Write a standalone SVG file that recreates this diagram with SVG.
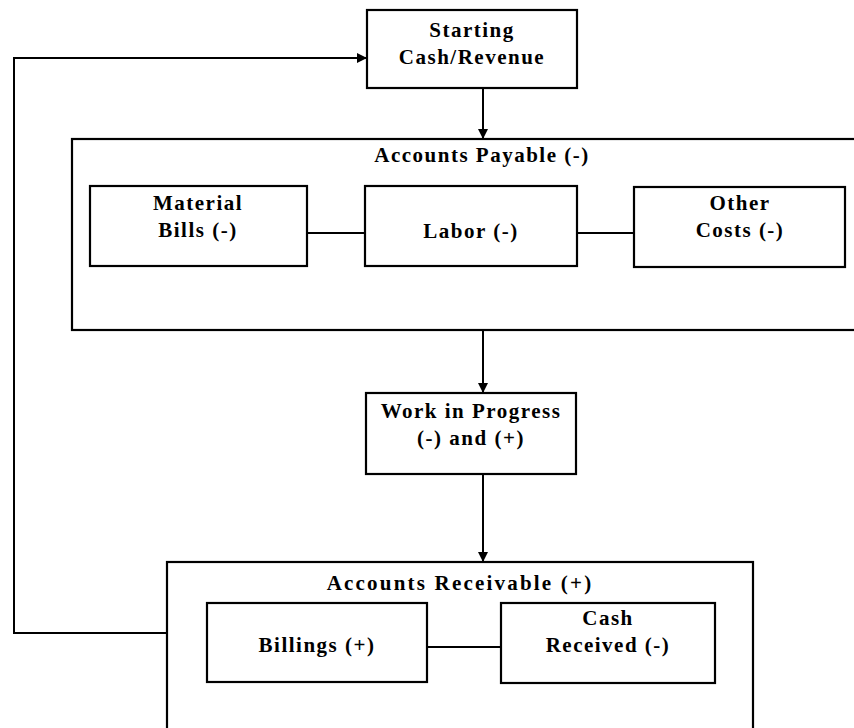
<svg xmlns="http://www.w3.org/2000/svg" width="854" height="728" viewBox="0 0 854 728">
  <defs>
    <marker id="arrow" viewBox="0 0 10 10" refX="10" refY="5" markerWidth="5" markerHeight="5" orient="auto" markerUnits="strokeWidth">
      <path d="M0,0 L10,5 L0,10 z" fill="#000"/>
    </marker>
  </defs>
  <style>
    rect { fill: #fff; stroke: #000; stroke-width: 2.2; }
    .wire { fill: none; stroke: #000; stroke-width: 2; }
    text { font-family: "Liberation Serif", "Times New Roman", serif; font-weight: bold; font-size: 21px; fill: #000; text-anchor: middle; letter-spacing: 1.5px; }
    .wide { letter-spacing: 2.2px; }
  </style>
  <rect x="0" y="0" width="854" height="728" style="stroke:none"/>

  <!-- outer containers -->
  <g id="accounts-payable">
    <rect x="72" y="139" width="800" height="191"/>
    <text x="482" y="162">Accounts Payable (-)</text>
  </g>
  <g id="accounts-receivable">
    <rect x="167" y="562" width="586" height="190"/>
    <text class="wide" x="460" y="590">Accounts Receivable (+)</text>
  </g>

  <!-- connectors -->
  <g id="connectors">
    <path class="wire" d="M483,88 V139" marker-end="url(#arrow)"/>
    <path class="wire" d="M483,330 V393" marker-end="url(#arrow)"/>
    <path class="wire" d="M483,474 V562" marker-end="url(#arrow)"/>
    <path class="wire" d="M167,633 H14 V58 H367" marker-end="url(#arrow)"/>
    <path class="wire" d="M307,233 H365"/>
    <path class="wire" d="M577,233 H634"/>
    <path class="wire" d="M427,647 H501"/>
  </g>

  <g id="starting-cash">
    <rect x="367" y="10" width="210" height="78"/>
    <text x="472" y="37">Starting</text>
    <text x="472" y="64">Cash/Revenue</text>
  </g>

  <g id="material-bills">
    <rect x="90" y="186" width="217" height="80"/>
    <text x="198" y="210">Material</text>
    <text x="198" y="237">Bills (-)</text>
  </g>
  <g id="labor">
    <rect x="365" y="186" width="212" height="80"/>
    <text x="471" y="238">Labor (-)</text>
  </g>
  <g id="other-costs">
    <rect x="634" y="187" width="211" height="80"/>
    <text x="740" y="210">Other</text>
    <text x="740" y="237">Costs (-)</text>
  </g>

  <g id="work-in-progress">
    <rect x="366" y="393" width="210" height="81"/>
    <text x="471" y="418">Work in Progress</text>
    <text x="471" y="445">(-) and (+)</text>
  </g>

  <g id="billings">
    <rect x="207" y="603" width="220" height="79"/>
    <text x="317" y="652">Billings (+)</text>
  </g>
  <g id="cash-received">
    <rect x="501" y="603" width="214" height="80"/>
    <text x="608" y="625">Cash</text>
    <text x="608" y="652">Received (-)</text>
  </g>
</svg>
